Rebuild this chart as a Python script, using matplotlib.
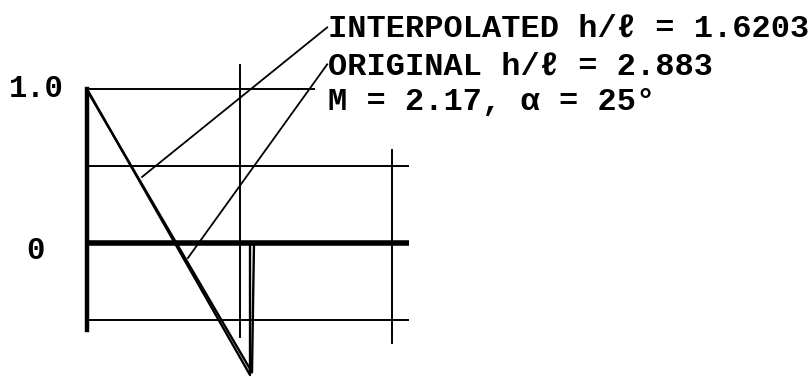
import matplotlib.pyplot as plt

# grid / axis lines (x in units of the vertical grid spacing, y in pressure units)
hlines_y = [1.0, 0.5, 0.0, -0.5]
hlines_x1 = [1.495, 2.11, 2.11, 2.11]
vlines_x = [0.0, 1.0, 2.0]
vlines_y0 = [-0.565, -0.61, -0.65]
vlines_y1 = [1.0, 1.156, 0.604]

# the two distributions (almost on top of each other)
interp_x = [0.0, 1.069, 1.069]
interp_y = [1.0, -0.857, 0.0]
orig_x = [0.01, 1.082, 1.095]
orig_y = [0.975, -0.84, 0.0]

# leader lines: point on curve -> start of label
lead_interp = ([0.361, 1.575], [0.429, 1.40])
lead_orig = ([0.662, 1.575], [-0.097, 1.16])

labels = ['INTERPOLATED h/ℓ = 1.6203', 'ORIGINAL h/ℓ = 2.883', 'M = 2.17, α = 25°']
label_y = [1.39, 1.145, 0.915]

fig = plt.figure(figsize=(8.1, 3.77), dpi=100)
ax = fig.add_axes([0, 0, 1, 1])
ax.set_xlim(-0.5705, 4.741)
ax.set_ylim(-0.870, 1.578)
ax.axis('off')

for y, x1 in zip(hlines_y, hlines_x1):
    lw = 4 if y == 0 else 1.4
    ax.plot([0, x1], [y, y], color='black', lw=lw, solid_capstyle='butt')
for x, y0, y1 in zip(vlines_x, vlines_y0, vlines_y1):
    lw = 3.2 if x == 0 else 1.4
    ax.plot([x, x], [y0, y1], color='black', lw=lw)

ax.plot(interp_x, interp_y, color='black', lw=1.7)
ax.plot(orig_x, orig_y, color='black', lw=1.7)

ax.plot(*lead_interp, color='black', lw=1.3)
ax.plot(*lead_orig, color='black', lw=1.3)

mono = ['Liberation Mono', 'DejaVu Sans Mono']
for s, y in zip(labels, label_y):
    ax.text(1.58, y, s, fontsize=23, fontweight='bold', family=mono, va='center', ha='left')

ax.text(-0.15, 1.0, '1.0', fontsize=22, fontweight='bold', family=mono, va='center', ha='right')
ax.text(-0.28, -0.05, '0', fontsize=22, fontweight='bold', family=mono, va='center', ha='right')

fig.savefig('out.png', dpi=100, facecolor='white')
